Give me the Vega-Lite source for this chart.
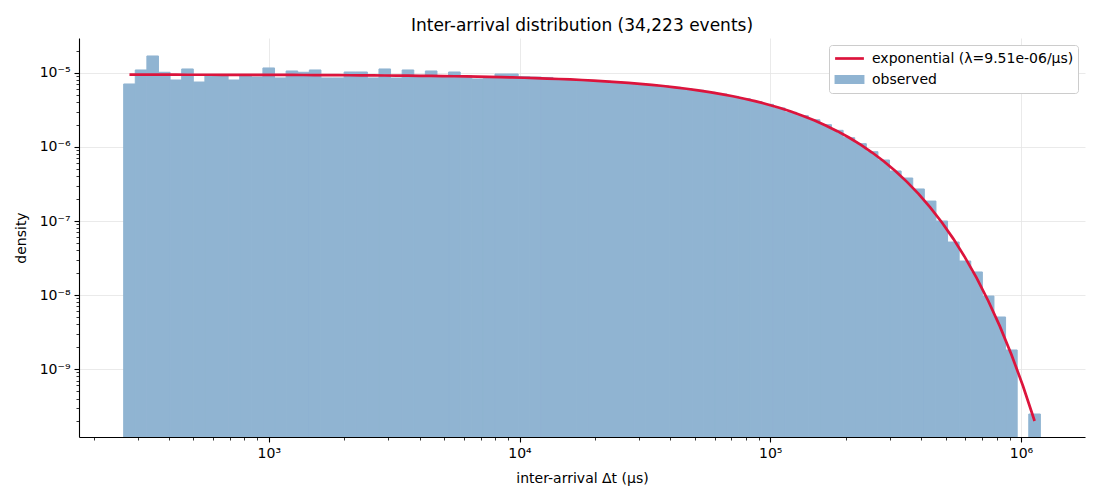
{
  "$schema": "https://vega.github.io/schema/vega-lite/v6.json",
  "width": 1006,
  "height": 399,
  "autosize": {"type": "none"},
  "padding": {"left": 79, "top": 38, "right": 15, "bottom": 63},
  "background": "white",
  "title": {"text": "Inter-arrival distribution (34,223 events)", "fontSize": 17, "fontWeight": "normal", "anchor": "middle", "offset": 3, "color": "black"},
  "datasets": {
    "bins": [
      {"lo": 263.76, "hi": 293.42, "density": 7.10e-6, "series": "observed"},
      {"lo": 293.42, "hi": 326.41, "density": 1.098e-5, "series": "observed"},
      {"lo": 326.41, "hi": 363.11, "density": 1.697e-5, "series": "observed"},
      {"lo": 363.11, "hi": 403.94, "density": 1.022e-5, "series": "observed"},
      {"lo": 403.94, "hi": 449.36, "density": 8.04e-6, "series": "observed"},
      {"lo": 449.36, "hi": 499.89, "density": 1.133e-5, "series": "observed"},
      {"lo": 499.89, "hi": 556.10, "density": 7.55e-6, "series": "observed"},
      {"lo": 556.10, "hi": 618.63, "density": 9.19e-6, "series": "observed"},
      {"lo": 618.63, "hi": 688.19, "density": 9.40e-6, "series": "observed"},
      {"lo": 688.19, "hi": 765.58, "density": 8.04e-6, "series": "observed"},
      {"lo": 765.58, "hi": 851.67, "density": 9.40e-6, "series": "observed"},
      {"lo": 851.67, "hi": 947.44, "density": 8.83e-6, "series": "observed"},
      {"lo": 947.44, "hi": 1053.98, "density": 1.169e-5, "series": "observed"},
      {"lo": 1053.98, "hi": 1172.50, "density": 8.56e-6, "series": "observed"},
      {"lo": 1172.50, "hi": 1304.35, "density": 1.064e-5, "series": "observed"},
      {"lo": 1304.35, "hi": 1451.02, "density": 1.022e-5, "series": "observed"},
      {"lo": 1451.02, "hi": 1614.19, "density": 1.098e-5, "series": "observed"},
      {"lo": 1614.19, "hi": 1795.70, "density": 8.56e-6, "series": "observed"},
      {"lo": 1795.70, "hi": 1997.62, "density": 8.56e-6, "series": "observed"},
      {"lo": 1997.62, "hi": 2222.25, "density": 1.031e-5, "series": "observed"},
      {"lo": 2222.25, "hi": 2472.14, "density": 1.031e-5, "series": "observed"},
      {"lo": 2472.14, "hi": 2750.13, "density": 8.56e-6, "series": "observed"},
      {"lo": 2750.13, "hi": 3059.38, "density": 1.133e-5, "series": "observed"},
      {"lo": 3059.38, "hi": 3403.40, "density": 8.56e-6, "series": "observed"},
      {"lo": 3403.40, "hi": 3786.11, "density": 1.098e-5, "series": "observed"},
      {"lo": 3786.11, "hi": 4211.86, "density": 9.30e-6, "series": "observed"},
      {"lo": 4211.86, "hi": 4685.48, "density": 1.064e-5, "series": "observed"},
      {"lo": 4685.48, "hi": 5212.36, "density": 9.20e-6, "series": "observed"},
      {"lo": 5212.36, "hi": 5798.47, "density": 1.031e-5, "series": "observed"},
      {"lo": 5798.47, "hi": 6450.50, "density": 9.20e-6, "series": "observed"},
      {"lo": 6450.50, "hi": 7175.85, "density": 8.30e-6, "series": "observed"},
      {"lo": 7175.85, "hi": 7982.75, "density": 8.83e-6, "series": "observed"},
      {"lo": 7982.75, "hi": 8880.40, "density": 9.69e-6, "series": "observed"},
      {"lo": 8880.40, "hi": 9878.99, "density": 9.69e-6, "series": "observed"},
      {"lo": 9878.99, "hi": 10989.9, "density": 8.9e-6, "series": "observed"},
      {"lo": 10989.9, "hi": 12225.6, "density": 8.8e-6, "series": "observed"},
      {"lo": 12225.6, "hi": 13600.4, "density": 8.7e-6, "series": "observed"},
      {"lo": 13600.4, "hi": 15129.7, "density": 8.30e-6, "series": "observed"},
      {"lo": 15129.7, "hi": 16831.0, "density": 8.17e-6, "series": "observed"},
      {"lo": 16831.0, "hi": 18723.6, "density": 8.05e-6, "series": "observed"},
      {"lo": 18723.6, "hi": 20829.0, "density": 7.86e-6, "series": "observed"},
      {"lo": 20829.0, "hi": 23171.2, "density": 7.73e-6, "series": "observed"},
      {"lo": 23171.2, "hi": 25776.7, "density": 7.52e-6, "series": "observed"},
      {"lo": 25776.7, "hi": 28675.3, "density": 7.36e-6, "series": "observed"},
      {"lo": 28675.3, "hi": 31899.7, "density": 7.12e-6, "series": "observed"},
      {"lo": 31899.7, "hi": 35486.8, "density": 6.92e-6, "series": "observed"},
      {"lo": 35486.8, "hi": 39477.3, "density": 6.65e-6, "series": "observed"},
      {"lo": 39477.3, "hi": 43916.4, "density": 6.41e-6, "series": "observed"},
      {"lo": 43916.4, "hi": 48854.7, "density": 6.10e-6, "series": "observed"},
      {"lo": 48854.7, "hi": 54348.3, "density": 5.84e-6, "series": "observed"},
      {"lo": 54348.3, "hi": 60459.8, "density": 5.50e-6, "series": "observed"},
      {"lo": 60459.8, "hi": 67258.6, "density": 5.20e-6, "series": "observed"},
      {"lo": 67258.6, "hi": 74821.8, "density": 4.83e-6, "series": "observed"},
      {"lo": 74821.8, "hi": 83235.6, "density": 4.50e-6, "series": "observed"},
      {"lo": 83235.6, "hi": 92595.4, "density": 4.11e-6, "series": "observed"},
      {"lo": 92595.4, "hi": 103008, "density": 3.77e-6, "series": "observed"},
      {"lo": 103008, "hi": 114591, "density": 3.37e-6, "series": "observed"},
      {"lo": 114591, "hi": 127476, "density": 2.94e-6, "series": "observed"},
      {"lo": 127476, "hi": 141811, "density": 2.65e-6, "series": "observed"},
      {"lo": 141811, "hi": 157758, "density": 2.33e-6, "series": "observed"},
      {"lo": 157758, "hi": 175498, "density": 2.00e-6, "series": "observed"},
      {"lo": 175498, "hi": 195232, "density": 1.68e-6, "series": "observed"},
      {"lo": 195232, "hi": 217186, "density": 1.336e-6, "series": "observed"},
      {"lo": 217186, "hi": 241608, "density": 1.109e-6, "series": "observed"},
      {"lo": 241608, "hi": 268777, "density": 8.64e-7, "series": "observed"},
      {"lo": 268777, "hi": 299001, "density": 6.67e-7, "series": "observed"},
      {"lo": 299001, "hi": 332623, "density": 4.74e-7, "series": "observed"},
      {"lo": 332623, "hi": 370027, "density": 3.81e-7, "series": "observed"},
      {"lo": 370027, "hi": 411636, "density": 2.71e-7, "series": "observed"},
      {"lo": 411636, "hi": 457925, "density": 1.86e-7, "series": "observed"},
      {"lo": 457925, "hi": 509418, "density": 1.0e-7, "series": "observed"},
      {"lo": 509418, "hi": 566702, "density": 5.2e-8, "series": "observed"},
      {"lo": 566702, "hi": 630427, "density": 2.88e-8, "series": "observed"},
      {"lo": 630427, "hi": 701318, "density": 2.05e-8, "series": "observed"},
      {"lo": 701318, "hi": 780181, "density": 9.69e-9, "series": "observed"},
      {"lo": 780181, "hi": 867912, "density": 5.05e-9, "series": "observed"},
      {"lo": 867912, "hi": 965508, "density": 1.81e-9, "series": "observed"},
      {"lo": 1074079, "hi": 1194860, "density": 2.47e-10, "series": "observed"}
    ],
    "fit": [
      {"t": 278.2, "f": 9.485e-6, "series": "exponential (λ=9.51e-06/μs)"},
      {"t": 309.5, "f": 9.482e-6, "series": "exponential (λ=9.51e-06/μs)"},
      {"t": 344.3, "f": 9.479e-6, "series": "exponential (λ=9.51e-06/μs)"},
      {"t": 383.0, "f": 9.475e-6, "series": "exponential (λ=9.51e-06/μs)"},
      {"t": 426.1, "f": 9.472e-6, "series": "exponential (λ=9.51e-06/μs)"},
      {"t": 474.0, "f": 9.467e-6, "series": "exponential (λ=9.51e-06/μs)"},
      {"t": 527.3, "f": 9.462e-6, "series": "exponential (λ=9.51e-06/μs)"},
      {"t": 586.6, "f": 9.457e-6, "series": "exponential (λ=9.51e-06/μs)"},
      {"t": 652.6, "f": 9.451e-6, "series": "exponential (λ=9.51e-06/μs)"},
      {"t": 726.0, "f": 9.445e-6, "series": "exponential (λ=9.51e-06/μs)"},
      {"t": 807.6, "f": 9.437e-6, "series": "exponential (λ=9.51e-06/μs)"},
      {"t": 898.4, "f": 9.429e-6, "series": "exponential (λ=9.51e-06/μs)"},
      {"t": 999.4, "f": 9.420e-6, "series": "exponential (λ=9.51e-06/μs)"},
      {"t": 1111.8, "f": 9.410e-6, "series": "exponential (λ=9.51e-06/μs)"},
      {"t": 1236.8, "f": 9.399e-6, "series": "exponential (λ=9.51e-06/μs)"},
      {"t": 1375.9, "f": 9.386e-6, "series": "exponential (λ=9.51e-06/μs)"},
      {"t": 1530.6, "f": 9.373e-6, "series": "exponential (λ=9.51e-06/μs)"},
      {"t": 1702.7, "f": 9.357e-6, "series": "exponential (λ=9.51e-06/μs)"},
      {"t": 1894.2, "f": 9.340e-6, "series": "exponential (λ=9.51e-06/μs)"},
      {"t": 2107.2, "f": 9.321e-6, "series": "exponential (λ=9.51e-06/μs)"},
      {"t": 2344.2, "f": 9.300e-6, "series": "exponential (λ=9.51e-06/μs)"},
      {"t": 2607.8, "f": 9.277e-6, "series": "exponential (λ=9.51e-06/μs)"},
      {"t": 2901.0, "f": 9.251e-6, "series": "exponential (λ=9.51e-06/μs)"},
      {"t": 3227.2, "f": 9.223e-6, "series": "exponential (λ=9.51e-06/μs)"},
      {"t": 3590.1, "f": 9.191e-6, "series": "exponential (λ=9.51e-06/μs)"},
      {"t": 3993.8, "f": 9.156e-6, "series": "exponential (λ=9.51e-06/μs)"},
      {"t": 4442.9, "f": 9.117e-6, "series": "exponential (λ=9.51e-06/μs)"},
      {"t": 4942.5, "f": 9.073e-6, "series": "exponential (λ=9.51e-06/μs)"},
      {"t": 5498.3, "f": 9.026e-6, "series": "exponential (λ=9.51e-06/μs)"},
      {"t": 6116.6, "f": 8.973e-6, "series": "exponential (λ=9.51e-06/μs)"},
      {"t": 6804.4, "f": 8.914e-6, "series": "exponential (λ=9.51e-06/μs)"},
      {"t": 7569.6, "f": 8.850e-6, "series": "exponential (λ=9.51e-06/μs)"},
      {"t": 8420.8, "f": 8.778e-6, "series": "exponential (λ=9.51e-06/μs)"},
      {"t": 9367.7, "f": 8.700e-6, "series": "exponential (λ=9.51e-06/μs)"},
      {"t": 10421, "f": 8.613e-6, "series": "exponential (λ=9.51e-06/μs)"},
      {"t": 11593, "f": 8.517e-6, "series": "exponential (λ=9.51e-06/μs)"},
      {"t": 12897, "f": 8.413e-6, "series": "exponential (λ=9.51e-06/μs)"},
      {"t": 14347, "f": 8.297e-6, "series": "exponential (λ=9.51e-06/μs)"},
      {"t": 15960, "f": 8.171e-6, "series": "exponential (λ=9.51e-06/μs)"},
      {"t": 17755, "f": 8.033e-6, "series": "exponential (λ=9.51e-06/μs)"},
      {"t": 19752, "f": 7.882e-6, "series": "exponential (λ=9.51e-06/μs)"},
      {"t": 21973, "f": 7.717e-6, "series": "exponential (λ=9.51e-06/μs)"},
      {"t": 24444, "f": 7.538e-6, "series": "exponential (λ=9.51e-06/μs)"},
      {"t": 27193, "f": 7.344e-6, "series": "exponential (λ=9.51e-06/μs)"},
      {"t": 30251, "f": 7.133e-6, "series": "exponential (λ=9.51e-06/μs)"},
      {"t": 33653, "f": 6.906e-6, "series": "exponential (λ=9.51e-06/μs)"},
      {"t": 37437, "f": 6.662e-6, "series": "exponential (λ=9.51e-06/μs)"},
      {"t": 41647, "f": 6.400e-6, "series": "exponential (λ=9.51e-06/μs)"},
      {"t": 46330, "f": 6.122e-6, "series": "exponential (λ=9.51e-06/μs)"},
      {"t": 51540, "f": 5.826e-6, "series": "exponential (λ=9.51e-06/μs)"},
      {"t": 57336, "f": 5.514e-6, "series": "exponential (λ=9.51e-06/μs)"},
      {"t": 63784, "f": 5.186e-6, "series": "exponential (λ=9.51e-06/μs)"},
      {"t": 70956, "f": 4.844e-6, "series": "exponential (λ=9.51e-06/μs)"},
      {"t": 78935, "f": 4.490e-6, "series": "exponential (λ=9.51e-06/μs)"},
      {"t": 87811, "f": 4.127e-6, "series": "exponential (λ=9.51e-06/μs)"},
      {"t": 97686, "f": 3.757e-6, "series": "exponential (λ=9.51e-06/μs)"},
      {"t": 108671, "f": 3.384e-6, "series": "exponential (λ=9.51e-06/μs)"},
      {"t": 120891, "f": 3.013e-6, "series": "exponential (λ=9.51e-06/μs)"},
      {"t": 134485, "f": 2.648e-6, "series": "exponential (λ=9.51e-06/μs)"},
      {"t": 149608, "f": 2.293e-6, "series": "exponential (λ=9.51e-06/μs)"},
      {"t": 166431, "f": 1.954e-6, "series": "exponential (λ=9.51e-06/μs)"},
      {"t": 185146, "f": 1.636e-6, "series": "exponential (λ=9.51e-06/μs)"},
      {"t": 205966, "f": 1.342e-6, "series": "exponential (λ=9.51e-06/μs)"},
      {"t": 229127, "f": 1.0761e-6, "series": "exponential (λ=9.51e-06/μs)"},
      {"t": 254892, "f": 8.42e-7, "series": "exponential (λ=9.51e-06/μs)"},
      {"t": 283555, "f": 6.41e-7, "series": "exponential (λ=9.51e-06/μs)"},
      {"t": 315440, "f": 4.736e-7, "series": "exponential (λ=9.51e-06/μs)"},
      {"t": 350911, "f": 3.379e-7, "series": "exponential (λ=9.51e-06/μs)"},
      {"t": 390371, "f": 2.322e-7, "series": "exponential (λ=9.51e-06/μs)"},
      {"t": 434268, "f": 1.530e-7, "series": "exponential (λ=9.51e-06/μs)"},
      {"t": 483101, "f": 9.62e-8, "series": "exponential (λ=9.51e-06/μs)"},
      {"t": 537426, "f": 5.74e-8, "series": "exponential (λ=9.51e-06/μs)"},
      {"t": 597860, "f": 3.23e-8, "series": "exponential (λ=9.51e-06/μs)"},
      {"t": 665090, "f": 1.703e-8, "series": "exponential (λ=9.51e-06/μs)"},
      {"t": 739879, "f": 8.37e-9, "series": "exponential (λ=9.51e-06/μs)"},
      {"t": 823077, "f": 3.80e-9, "series": "exponential (λ=9.51e-06/μs)"},
      {"t": 915631, "f": 1.574e-9, "series": "exponential (λ=9.51e-06/μs)"},
      {"t": 1018593, "f": 5.91e-10, "series": "exponential (λ=9.51e-06/μs)"},
      {"t": 1133132, "f": 1.987e-10, "series": "exponential (λ=9.51e-06/μs)"}
    ]
  },
  "layer": [
    {
      "data": {"name": "bins"},
      "mark": {"type": "bar", "clip": true, "binSpacing": 0, "strokeWidth": 1},
      "encoding": {
        "x": {
          "field": "lo",
          "type": "quantitative",
          "scale": {"type": "log", "domain": [175, 1800000], "nice": false},
          "axis": {
            "title": "inter-arrival Δt (μs)",
            "values": [200, 300, 400, 500, 600, 700, 800, 900, 1000, 2000, 3000, 4000, 5000, 6000, 7000, 8000, 9000, 10000, 20000, 30000, 40000, 50000, 60000, 70000, 80000, 90000, 100000, 200000, 300000, 400000, 500000, 600000, 700000, 800000, 900000, 1000000],
            "labelExpr": "datum.value === 1000 ? '10³' : datum.value === 10000 ? '10⁴' : datum.value === 100000 ? '10⁵' : datum.value === 1000000 ? '10⁶' : ''",
            "tickSize": {"condition": {"test": "indexof([1000, 10000, 100000, 1000000], datum.value) >= 0", "value": 5}, "value": 3},
            "tickWidth": {"condition": {"test": "indexof([1000, 10000, 100000, 1000000], datum.value) >= 0", "value": 1.1}, "value": 0.8},
            "gridOpacity": {"condition": {"test": "indexof([1000, 10000, 100000, 1000000], datum.value) >= 0", "value": 1}, "value": 0},
            "labelPadding": 4,
            "titlePadding": 11
          }
        },
        "x2": {"field": "hi"},
        "y": {
          "field": "density",
          "type": "quantitative",
          "scale": {"type": "log", "domain": [1.208e-10, 2.968e-5], "nice": false},
          "axis": {
            "title": "density",
            "values": [2e-10, 3e-10, 4e-10, 5e-10, 6e-10, 7e-10, 8e-10, 9e-10, 1e-9, 2e-9, 3e-9, 4e-9, 5e-9, 6e-9, 7e-9, 8e-9, 9e-9, 1e-8, 2e-8, 3e-8, 4e-8, 5e-8, 6e-8, 7e-8, 8e-8, 9e-8, 1e-7, 2e-7, 3e-7, 4e-7, 5e-7, 6e-7, 7e-7, 8e-7, 9e-7, 1e-6, 2e-6, 3e-6, 4e-6, 5e-6, 6e-6, 7e-6, 8e-6, 9e-6, 1e-5, 2e-5],
            "labelExpr": "datum.value === 1e-5 ? '10⁻⁵' : datum.value === 1e-6 ? '10⁻⁶' : datum.value === 1e-7 ? '10⁻⁷' : datum.value === 1e-8 ? '10⁻⁸' : datum.value === 1e-9 ? '10⁻⁹' : ''",
            "tickSize": {"condition": {"test": "indexof([1e-5, 1e-6, 1e-7, 1e-8, 1e-9], datum.value) >= 0", "value": 5}, "value": 3},
            "tickWidth": {"condition": {"test": "indexof([1e-5, 1e-6, 1e-7, 1e-8, 1e-9], datum.value) >= 0", "value": 1.1}, "value": 0.8},
            "gridOpacity": {"condition": {"test": "indexof([1e-5, 1e-6, 1e-7, 1e-8, 1e-9], datum.value) >= 0", "value": 1}, "value": 0},
            "labelPadding": 4,
            "titlePadding": 11
          }
        },
        "y2": {"datum": 1e-12},
        "color": {
          "field": "series",
          "type": "nominal",
          "scale": {"domain": ["exponential (λ=9.51e-06/μs)", "observed"], "range": ["#dc143c", "#90b4d2"]},
          "legend": {
            "title": null,
            "orient": "top-right",
            "offset": 7,
            "fillColor": "white",
            "strokeColor": "#cccccc",
            "cornerRadius": 3,
            "padding": 4,
            "labelFontSize": 14,
            "labelColor": "black",
            "labelOffset": 13,
            "labelLimit": 400,
            "rowPadding": 4,
            "symbolSize": 256,
            "symbolOffset": 7,
            "symbolStrokeWidth": 2.7,
            "symbolType": {"expr": "datum.value === 'observed' ? 'M-1.7,-0.4H1.7V0.4H-1.7Z' : 'M-1.8,0H1.8'"},
            "encode": {
              "symbols": {
                "shape": {"value": {"expr": "datum.value === 'observed' ? 'M-1.7,-0.4H1.7V0.4H-1.7Z' : 'M-1.8,0H1.8'"}},
                "fill": {"value": {"expr": "datum.value === 'observed' ? '#90b4d2' : 'transparent'"}},
                "stroke": {"value": {"expr": "datum.value === 'observed' ? 'transparent' : '#dc143c'"}},
                "strokeWidth": {"value": 2.7},
                "opacity": {"value": 1}
              }
            }
          }
        },
        "stroke": {"value": "#90b4d2"}
      }
    },
    {
      "data": {"name": "fit"},
      "mark": {"type": "line", "strokeWidth": 2.7, "clip": true},
      "encoding": {
        "x": {"field": "t", "type": "quantitative"},
        "y": {"field": "f", "type": "quantitative"},
        "color": {"field": "series", "type": "nominal"}
      }
    }
  ],
  "config": {
    "font": "DejaVu Sans",
    "view": {"stroke": null},
    "axis": {
      "domainColor": "black",
      "domainWidth": 1.1,
      "tickColor": "black",
      "gridColor": "#e5e5e5",
      "gridWidth": 0.8,
      "labelFontSize": 14,
      "labelColor": "black",
      "labelOverlap": false,
      "labelFlush": false,
      "titleFontSize": 14,
      "titleFontWeight": "normal",
      "titleColor": "black"
    }
  }
}
